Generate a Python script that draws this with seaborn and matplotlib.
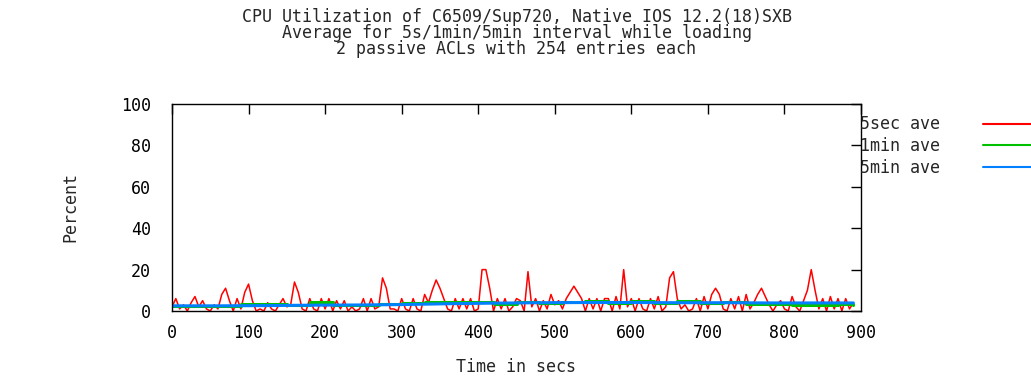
import matplotlib
matplotlib.use("Agg")
import matplotlib.pyplot as plt
import numpy as np
import pandas as pd
import seaborn as sns

# ---------------- data ----------------
time_5s = list(range(0, 895, 5))
cpu_5sec = [
    2, 6, 1, 3, 0, 4, 7, 2, 5, 1,
    0, 3, 1, 8, 11, 5, 0, 6, 1, 9,
    13, 5, 0, 1, 0, 4, 1, 0, 3, 6,
    2, 3, 14, 9, 1, 0, 6, 1, 0, 6,
    1, 6, 0, 5, 1, 5, 0, 2, 0, 1,
    6, 0, 6, 1, 2, 16, 11, 1, 1, 0,
    6, 1, 0, 6, 1, 0, 8, 4, 10, 15,
    11, 6, 1, 0, 6, 1, 6, 1, 6, 0,
    1, 20, 20, 11, 0, 6, 1, 6, 0, 2,
    6, 5, 0, 19, 2, 6, 0, 5, 1, 8,
    3, 5, 1, 6, 9, 12, 9, 6, 0, 6,
    1, 6, 0, 6, 6, 0, 7, 1, 20, 2,
    6, 0, 6, 1, 0, 6, 1, 7, 0, 2,
    16, 19, 6, 1, 3, 0, 1, 6, 0, 7,
    1, 8, 11, 8, 1, 0, 6, 1, 7, 0,
    8, 1, 4, 8, 11, 7, 3, 0, 3, 5,
    1, 0, 7, 2, 0, 5, 10, 20, 10, 1,
    6, 0, 7, 1, 6, 0, 6, 1, 4,
]
time_1min = [0, 30, 60, 90, 120, 150, 180, 210, 240, 270, 300, 330, 360, 390,
             420, 450, 480, 510, 540, 570, 600, 630, 660, 690, 720, 750, 780,
             810, 840, 870, 890]
cpu_1min = [2.4, 2.5, 2.6, 3.6, 3.5, 2.8, 4.2, 2.9, 2.9, 3.5, 3.8, 4.2, 4.3, 4.2,
            3.4, 4.5, 3.7, 4.2, 4.8, 3.9, 4.8, 4.0, 4.9, 3.9, 4.5, 3.5, 3.3,
            2.8, 3.0, 3.6, 2.9]
time_5min = [0, 60, 120, 180, 240, 300, 360, 420, 480, 540, 600, 660, 720, 780,
             840, 890]
cpu_5min = [2.5, 2.5, 2.6, 2.8, 2.9, 3.1, 3.5, 3.8, 4.0, 4.1, 4.1, 4.0, 4.0, 3.9,
            3.9, 3.9]

series_labels = ["5sec ave", "1min ave", "5min ave"]
series_colors = ["#ff0000", "#00c000", "#0080ff"]
x_ticks = [0, 100, 200, 300, 400, 500, 600, 700, 800, 900]
y_ticks = [0, 20, 40, 60, 80, 100]

title_text = ("CPU Utilization of C6509/Sup720, Native IOS 12.2(18)SXB\n"
              "Average for 5s/1min/5min interval while loading\n"
              "2 passive ACLs with 254 entries each")

df5s = pd.DataFrame({"t": time_5s, "v": cpu_5sec})
df1m = pd.DataFrame({"t": time_1min, "v": cpu_1min})
df5m = pd.DataFrame({"t": time_5min, "v": cpu_5min})

# ---------------- style ----------------
sns.set_style("white")
plt.rcParams["font.family"] = ["DejaVu Sans Mono"]
FS = 12

W, H = 1031, 382
fig = plt.figure(figsize=(W / 100, H / 100), dpi=100)
ax = fig.add_axes([172 / W, 1 - 311 / H, 689 / W, 207 / H])

sns.lineplot(data=df5s, x="t", y="v", ax=ax, color=series_colors[0], lw=1.1,
             label=series_labels[0])
sns.lineplot(data=df1m, x="t", y="v", ax=ax, color=series_colors[1], lw=2.2,
             drawstyle="steps-post", label=series_labels[1])
sns.lineplot(data=df5m, x="t", y="v", ax=ax, color=series_colors[2], lw=2.2,
             label=series_labels[2])

ax.set_xlim(0, 900)
ax.set_ylim(0, 100)
ax.set_xticks(x_ticks)
ax.set_yticks(y_ticks)
ax.tick_params(axis="both", direction="in", length=7, width=1, color="black",
               top=True, right=True, labelsize=FS, colors="black")
ax.tick_params(axis="y", pad=15)
ax.tick_params(axis="x", pad=9)
for s in ax.spines.values():
    s.set_color("black")
    s.set_linewidth(1)

ax.set_xlabel("Time in secs", fontsize=FS, labelpad=12)
ax.set_ylabel("Percent", fontsize=FS, labelpad=30)
ax.set_title(title_text, fontsize=FS, linespacing=0.84, pad=36)

leg = ax.legend(loc="upper left", bbox_to_anchor=(0.998, 0.945),
                frameon=False, markerfirst=False, fontsize=FS,
                handlelength=4, handletextpad=2.6, labelspacing=0.22,
                borderaxespad=0, borderpad=0)
for h in leg.get_lines():
    h.set_linewidth(1.5)

fig.savefig("out.png", dpi=100)
